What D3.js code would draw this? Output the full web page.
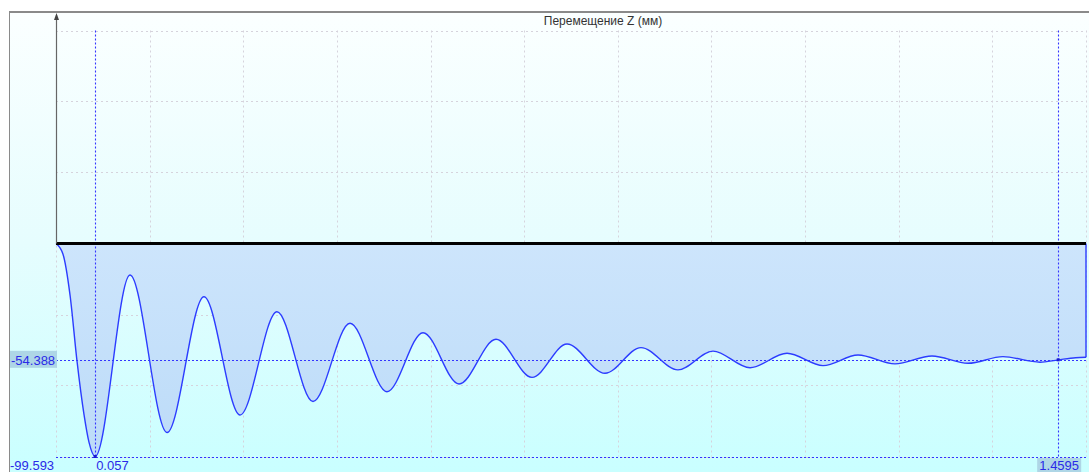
<!DOCTYPE html>
<html>
<head>
<meta charset="utf-8">
<script src="https://cdn.jsdelivr.net/npm/d3@7"></script>
<style>
  html, body { margin: 0; padding: 0; background: #ffffff; }
  svg { display: block; }
  text { font-family: "Liberation Sans", Arial, sans-serif; }
</style>
</head>
<body>
<svg id="chart" width="1089" height="472"></svg>
<script>
// Displacement Z over time (s, mm)
const timeS = [0, 0.0102, 0.0204, 0.0306, 0.0408, 0.0481, 0.057,
  0.1078, 0.1617, 0.2155, 0.2680, 0.3218, 0.3743, 0.4282, 0.4820,
  0.5345, 0.5869, 0.6408, 0.6932, 0.7442, 0.7995, 0.8519, 0.9058,
  0.9568, 1.0107, 1.0646, 1.1170, 1.1680, 1.2218, 1.2757, 1.3282,
  1.3791, 1.4330, 1.4595, 1.4850, 1.5];
const dispZ = [0, -5, -24, -55, -80, -93, -99.593,
  -14.7, -88.4, -24.9, -80.2, -31.9, -73.9, -37.3, -69.3,
  -41.7, -65.7, -44.8, -62.6, -47.0, -60.7, -48.7, -59.1,
  -50.3, -58.1, -51.3, -57.1, -52.1, -56.3, -52.6, -56.0,
  -52.9, -55.5, -54.388, -53.4, -53.2];

const xDomain = [0, 1.5];
const yLimit = 99.593;
const xDivisions = 11;
const yDivisions = 6;

const cursorTime = [0.057, 1.4595];
const cursorValue = [-54.388, -99.593];
const cursorTimeLabels = ["0.057", "1.4595"];
const cursorValueLabels = ["-54.388", "-99.593"];
const title = "Перемещение Z (мм)";

const svg = d3.select("#chart");
const W = 1089, H = 472;
const frame = { left: 9, top: 12 };
const plot = { left: 56, right: 1086, top: 30.5, bottom: 456.5 };

const x = d3.scaleLinear().domain(xDomain).range([plot.left, plot.right]);
const y = d3.scaleLinear().domain([-yLimit, yLimit]).range([plot.bottom, plot.top]);

const defs = svg.append("defs");
const bg = defs.append("linearGradient").attr("id", "bg")
  .attr("x1", 0).attr("y1", 0).attr("x2", 0).attr("y2", 1);
bg.append("stop").attr("offset", "0%").attr("stop-color", "#fbffff");
bg.append("stop").attr("offset", "50%").attr("stop-color", "#e6fdfe");
bg.append("stop").attr("offset", "100%").attr("stop-color", "#c9ffff");

const fillGrad = defs.append("linearGradient").attr("id", "fillGrad")
  .attr("gradientUnits", "userSpaceOnUse")
  .attr("x1", 0).attr("y1", y(0)).attr("x2", 0).attr("y2", y(-yLimit));
fillGrad.append("stop").attr("offset", "0%").attr("stop-color", "#cde5fc");
fillGrad.append("stop").attr("offset", "100%").attr("stop-color", "#bcdbf8");

// frame background
svg.append("rect")
  .attr("x", frame.left).attr("y", frame.top)
  .attr("width", W - frame.left).attr("height", H - frame.top)
  .attr("fill", "url(#bg)");
svg.append("line")
  .attr("x1", frame.left).attr("x2", W).attr("y1", frame.top).attr("y2", frame.top)
  .attr("stroke", "#8a8a8a").attr("stroke-width", 2);
svg.append("line")
  .attr("x1", frame.left + 0.5).attr("x2", frame.left + 0.5).attr("y1", frame.top).attr("y2", H)
  .attr("stroke", "#8a8a8a").attr("stroke-width", 1);

// grid
const xGrid = d3.range(xDivisions + 1).map(i => xDomain[0] + (xDomain[1] - xDomain[0]) * i / xDivisions);
const yGrid = d3.range(yDivisions + 1).map(i => -yLimit + 2 * yLimit * i / yDivisions);
const grid = svg.append("g").attr("stroke", "#d6d3dc").attr("stroke-width", 1)
  .attr("stroke-dasharray", "2,3");
grid.selectAll("line.v").data(xGrid).join("line").attr("class", "v")
  .attr("x1", d => Math.round(x(d)) + 0.5).attr("x2", d => Math.round(x(d)) + 0.5)
  .attr("y1", plot.top).attr("y2", plot.bottom);
grid.selectAll("line.h").data(yGrid.filter(v => Math.abs(v) > 1e-6)).join("line").attr("class", "h")
  .attr("x1", plot.left).attr("x2", plot.right)
  .attr("y1", d => Math.round(y(d)) + 0.5).attr("y2", d => Math.round(y(d)) + 0.5);

// filled area between curve and zero
const pts = timeS.map((t, i) => [t, dispZ[i]]);
const area = d3.area()
  .x(d => x(d[0])).y0(y(0)).y1(d => y(d[1]))
  .curve(d3.curveMonotoneX);
svg.append("path").datum(pts)
  .attr("d", area)
  .attr("fill", "url(#fillGrad)");

// cursor marker lines
const cursors = svg.append("g").attr("stroke", "#3434ff").attr("stroke-width", 1.1)
  .attr("stroke-dasharray", "2,2");
cursors.selectAll("line.ct").data(cursorTime).join("line").attr("class", "ct")
  .attr("x1", d => Math.round(x(d)) + 0.5).attr("x2", d => Math.round(x(d)) + 0.5)
  .attr("y1", plot.top).attr("y2", plot.bottom);
cursors.selectAll("line.cv").data(cursorValue).join("line").attr("class", "cv")
  .attr("x1", plot.left).attr("x2", plot.right)
  .attr("y1", d => Math.round(y(d)) + 0.5).attr("y2", d => Math.round(y(d)) + 0.5);

// curve
const line = d3.line()
  .x(d => x(d[0])).y(d => y(d[1]))
  .curve(d3.curveMonotoneX);
svg.append("path").datum(pts)
  .attr("d", line)
  .attr("fill", "none")
  .attr("stroke", "#2c3cff")
  .attr("stroke-width", 1.4);
const last = pts[pts.length - 1];
svg.append("line")
  .attr("x1", x(last[0])).attr("x2", x(last[0]))
  .attr("y1", y(0)).attr("y2", y(last[1]))
  .attr("stroke", "#2c3cff").attr("stroke-width", 1.4);

// cursor points
svg.selectAll("rect.cp").data([[cursorTime[0], cursorValue[1]], [cursorTime[1], cursorValue[0]]])
  .join("rect").attr("class", "cp")
  .attr("x", d => x(d[0]) - 1.5).attr("y", d => y(d[1]) - 1.5)
  .attr("width", 3).attr("height", 3).attr("fill", "#1a1ad0");

// zero line and y axis
svg.append("line")
  .attr("x1", plot.left).attr("x2", plot.right)
  .attr("y1", y(0)).attr("y2", y(0))
  .attr("stroke", "#000").attr("stroke-width", 3);
svg.append("line")
  .attr("x1", plot.left + 0.5).attr("x2", plot.left + 0.5)
  .attr("y1", frame.top + 3).attr("y2", y(0))
  .attr("stroke", "#666").attr("stroke-width", 1.2);
svg.append("path")
  .attr("d", `M${plot.left + 0.5},${frame.top + 1} l-2.5,7 l5,0 z`)
  .attr("fill", "#444");

// title
svg.append("text")
  .attr("x", 603).attr("y", 25)
  .attr("text-anchor", "middle")
  .attr("font-size", 12)
  .attr("fill", "#333")
  .text(title);

// cursor value labels
const labelColor = "#2a2ae8";
const valLab = svg.append("g");
const v0y = y(cursorValue[0]);
valLab.append("rect")
  .attr("x", frame.left + 1).attr("y", v0y - 9)
  .attr("width", plot.left - frame.left).attr("height", 17)
  .attr("fill", "#aed6e6");
valLab.append("text")
  .attr("x", 11).attr("y", v0y + 5)
  .attr("font-size", 13).attr("fill", labelColor)
  .text(cursorValueLabels[0]);
valLab.append("text")
  .attr("x", 10).attr("y", 470)
  .attr("font-size", 13).attr("fill", labelColor)
  .text(cursorValueLabels[1]);

// cursor time labels
svg.append("text")
  .attr("x", x(cursorTime[0]) + 1).attr("y", 470)
  .attr("font-size", 13).attr("fill", labelColor)
  .text(cursorTimeLabels[0]);
const t1x = x(cursorTime[1]);
svg.append("rect")
  .attr("x", t1x - 21).attr("y", 458)
  .attr("width", 44).attr("height", 14)
  .attr("fill", "#aed6e6");
svg.append("text")
  .attr("x", t1x + 1).attr("y", 470)
  .attr("text-anchor", "middle")
  .attr("font-size", 13).attr("fill", labelColor)
  .text(cursorTimeLabels[1]);
</script>
</body>
</html>
